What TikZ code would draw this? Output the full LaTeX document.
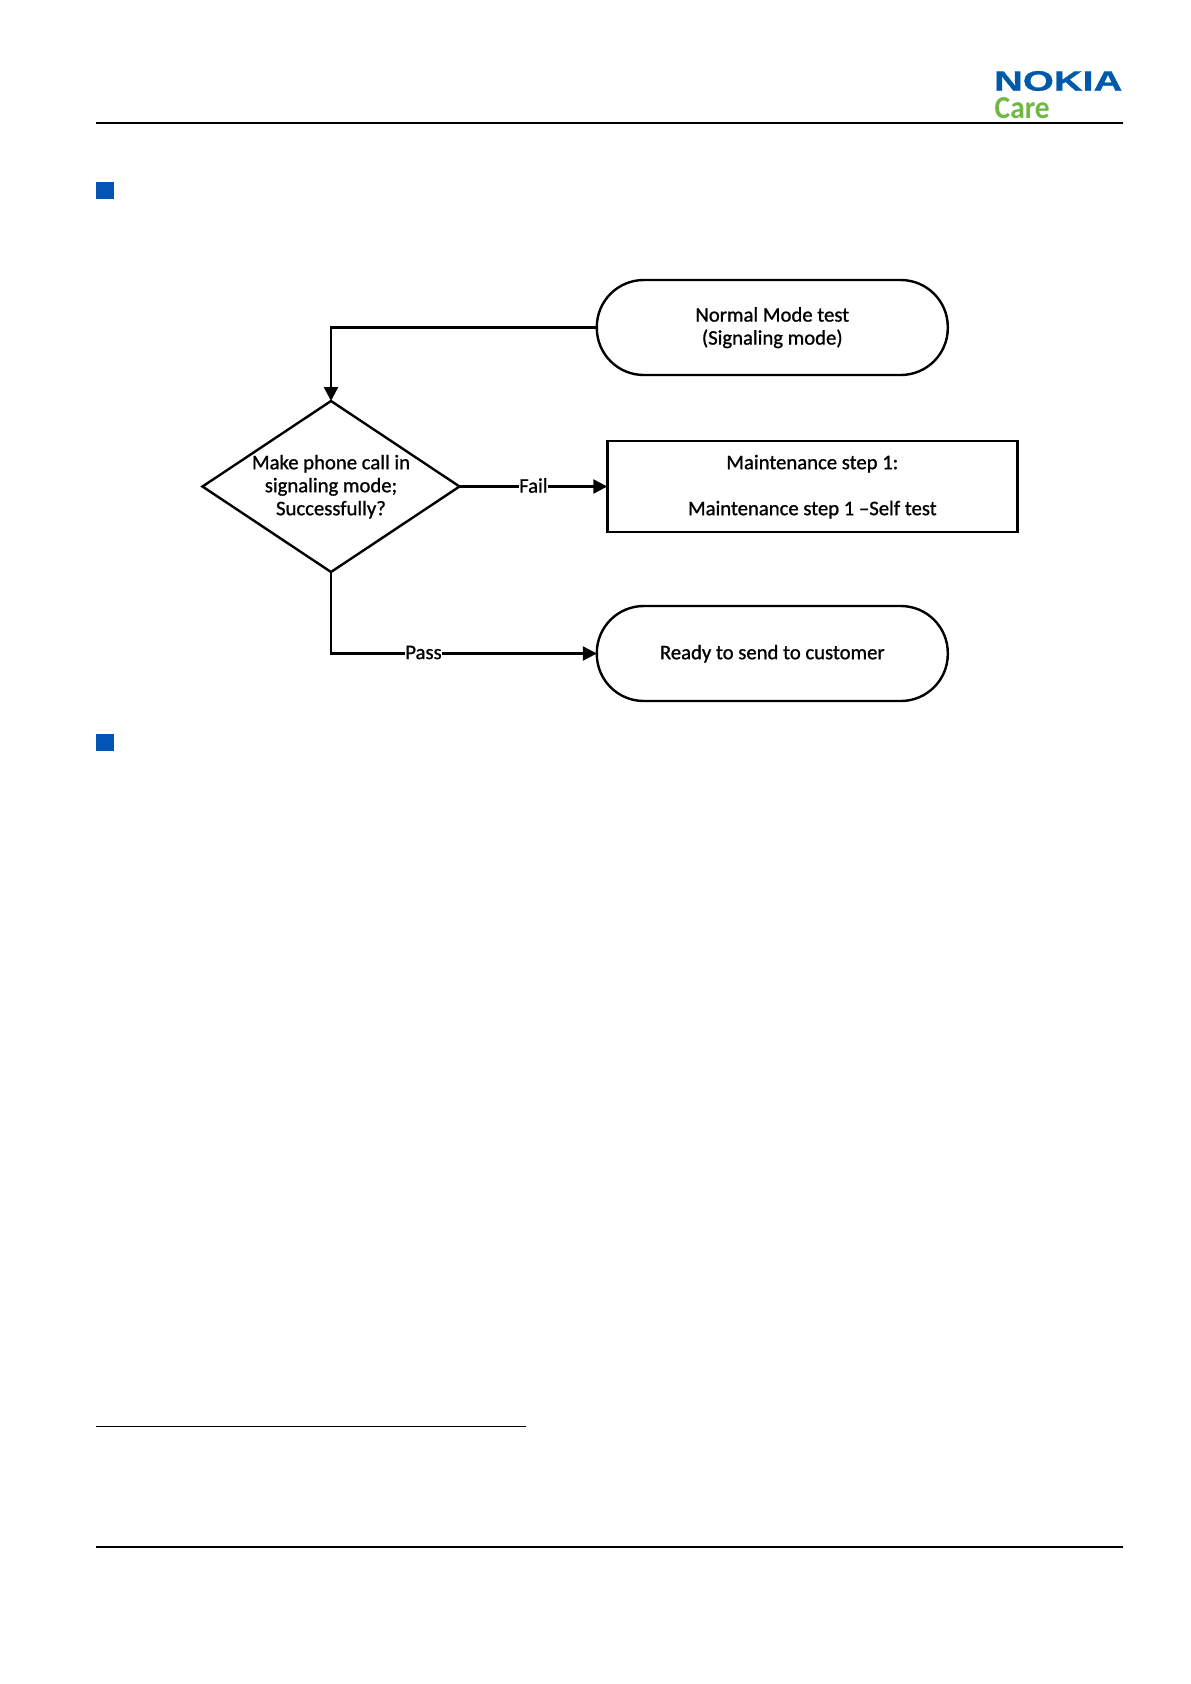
\documentclass[tikz,border=0pt]{standalone}
\usepackage{fontspec}
\usetikzlibrary{arrows.meta,shapes.geometric,positioning}
\setmainfont{Carlito}
\newfontfamily\flowfont[FakeBold=1.0]{Carlito}
\newfontfamily\logofont{Liberation Sans Bold}[FakeBold=0.8]
\newfontfamily\carefont{Carlito Bold}
\definecolor{nokiablue}{RGB}{0,90,170}
\definecolor{caregreen}{RGB}{112,184,68}
\definecolor{squareblue}{RGB}{4,84,180}
\tikzset{
  x=1pt,y=-1pt,
  shapeline/.style={draw=black,line width=2.4pt,fill=white,outer sep=0pt},
  pill/.style={shapeline,rounded corners=47pt,minimum width=351pt,minimum height=95pt,inner sep=0pt},
  procbox/.style={shapeline,minimum width=410pt,minimum height=91pt,inner sep=0pt},
  flowtext/.style={font=\flowfont\fontsize{20.7}{23}\selectfont,align=center,text=black,yshift=-0.2pt},
  edgelabel/.style={font=\flowfont\fontsize{20.7}{23}\selectfont,fill=white,inner sep=0.5pt,text=black,yshift=1pt},
  link/.style={draw=black,line width=2.4pt,-{Triangle[length=14pt,width=14pt]}},
  rule/.style={draw=black},
  bullet/.style={fill=squareblue,draw=none,minimum size=17.5pt,inner sep=0pt},
}
\begin{document}
\begin{tikzpicture}
\useasboundingbox (0,0) rectangle (1191,1684);
\fill[white] (0,0) rectangle (1191,1684);
% page furniture
\coordinate (hl) at (96,123); \coordinate (hr) at (1122.5,123);
\coordinate (fl) at (96,1547.3); \coordinate (fr) at (1122.5,1547.3);
\coordinate (nl) at (96,1426); \coordinate (nr) at (525.5,1426);
\draw[rule,line width=2.2pt] (hl) -- (hr);
\draw[rule,line width=2.2pt] (fl) -- (fr);
\draw[rule,line width=0.9pt] (nl) -- (nr);
\node[bullet] (b1) at (104.8,190.5) {};
\node[bullet] (b2) at (104.8,742.3) {};
% logo
\node[anchor=west,inner sep=0pt,text=nokiablue] (nokia) at (994,81) {\scalebox{1.42}[1]{\logofont\fontsize{28}{28}\selectfont NOKIA}};
\node[anchor=west,inner sep=0pt,text=caregreen] (care) at (994.5,108) {\scalebox{0.92}[1]{\carefont\fontsize{32}{32}\selectfont Care}};
% flowchart
\node[pill] (start) at (772.3,327.5) {};
\node[pill] (ready) at (772.3,653.5) {};
\node[procbox] (maint) at (812.3,486.5) {};
\node[diamond,shapeline,minimum width=257pt,minimum height=171pt,aspect=1.5,inner sep=0pt] (dec) at (331,486.5) {};
\node[flowtext] (starttext) at (start.center) {Normal Mode test\\(Signaling mode)};
\node[flowtext] (readytext) at (ready.center) {Ready to send to customer};
\node[flowtext] (mainttext) at (maint.center) {Maintenance step 1:\\[23pt]Maintenance step 1 –Self test};
\node[flowtext] (dectext) at (dec.center) {Make phone call in\\signaling mode;\\Successfully?};
\draw[link] (start.west) -| (dec.north);
\draw[link] (dec.east) -- node[edgelabel,pos=0.5] {Fail} (maint.west);
\draw[link] (dec.south) |- node[edgelabel,pos=0.674] {Pass} (ready.west);
\end{tikzpicture}
\end{document}
